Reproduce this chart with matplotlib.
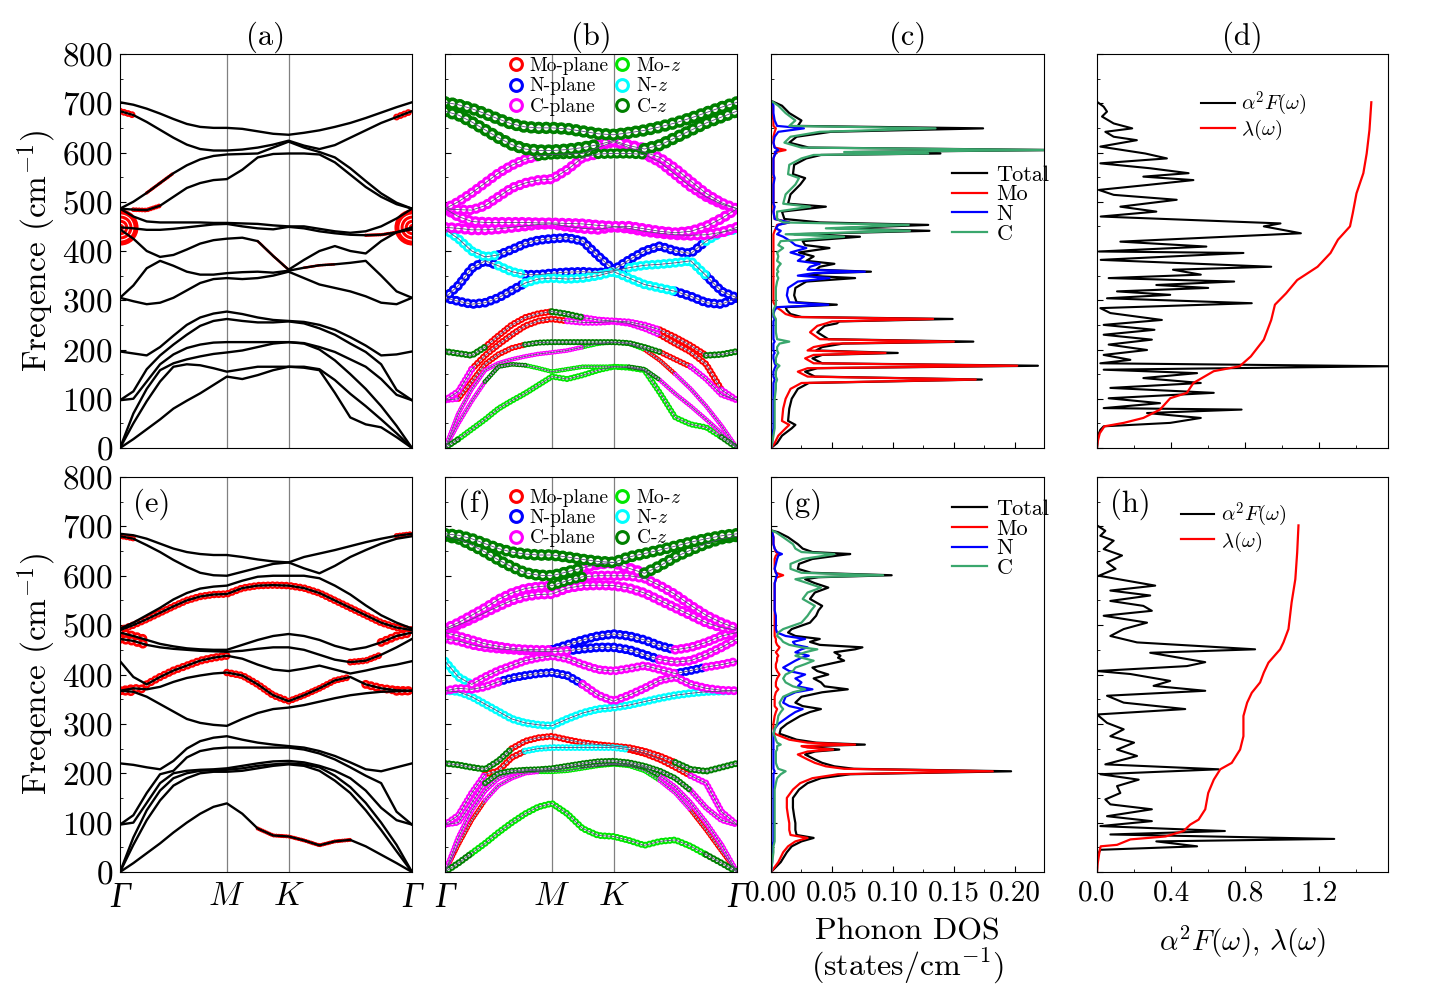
import numpy as np
import matplotlib
matplotlib.use('Agg')
import matplotlib.pyplot as plt
from matplotlib.lines import Line2D
from matplotlib.ticker import MultipleLocator, FormatStrFormatter

plt.rcParams['font.family'] = 'serif'
plt.rcParams['font.serif'] = ['cmr10']
plt.rcParams['mathtext.fontset'] = 'cm'
plt.rcParams['axes.formatter.use_mathtext'] = True
plt.rcParams['lines.scale_dashes'] = False

# k-path: Gamma-M (8 steps), M-K (4 steps), K-Gamma (8 steps)
gm, mk, kg = 1 / np.sqrt(3), 1 / 3, 2 / 3
kx = np.concatenate([np.linspace(0, gm, 9), gm + np.linspace(0, mk, 5)[1:],
                     gm + mk + np.linspace(0, kg, 9)[1:]])
k_nodes = [0, gm, gm + mk, gm + mk + kg]
k_labels = ['Γ', r'$M$', r'$K$', 'Γ']

# phonon branches (cm^-1), sorted by energy, upper row
bands_a = [
    [0, 18, 38, 58, 80, 96, 111, 128, 145, 140, 148, 158, 165, 163, 158, 112, 62, 48, 42, 22, 0],
    [0, 50, 95, 135, 165, 170, 168, 162, 155, 160, 165, 165, 165, 165, 160, 138, 110, 85, 58, 30, 0],
    [0, 70, 120, 158, 172, 180, 186, 191, 194, 198, 205, 212, 215, 212, 200, 178, 150, 120, 85, 45, 0],
    [97, 100, 135, 170, 190, 203, 210, 214, 215, 215, 215, 215, 215, 213, 205, 195, 180, 165, 140, 108, 97],
    [97, 115, 160, 188, 210, 230, 248, 258, 262, 258, 255, 255, 257, 253, 243, 230, 212, 195, 170, 118, 97],
    [196, 192, 188, 205, 228, 250, 265, 273, 277, 272, 265, 260, 258, 256, 250, 240, 225, 208, 188, 190, 196],
    [305, 298, 292, 295, 305, 320, 335, 343, 345, 343, 345, 350, 358, 345, 332, 325, 318, 308, 295, 292, 305],
    [305, 330, 365, 380, 370, 358, 352, 352, 355, 357, 358, 356, 360, 366, 371, 373, 376, 380, 350, 318, 305],
    [444, 425, 400, 388, 392, 403, 415, 422, 425, 427, 420, 390, 362, 382, 400, 410, 400, 395, 420, 438, 444],
    [448, 446, 443, 443, 445, 448, 451, 454, 455, 450, 446, 444, 449, 446, 440, 436, 433, 432, 433, 438, 448],
    [486, 470, 460, 458, 458, 458, 458, 457, 457, 456, 455, 452, 450, 450, 445, 440, 437, 440, 450, 466, 486],
    [486, 484, 483, 492, 510, 528, 538, 544, 546, 565, 590, 597, 598, 598, 596, 580, 555, 530, 510, 495, 486],
    [486, 500, 518, 538, 558, 574, 586, 593, 596, 597, 598, 610, 622, 610, 601, 590, 568, 542, 517, 498, 486],
    [684, 676, 662, 646, 630, 616, 607, 604, 604, 606, 610, 616, 624, 614, 607, 615, 630, 645, 660, 672, 684],
    [702, 697, 689, 679, 668, 658, 652, 650, 650, 648, 643, 638, 636, 640, 645, 652, 660, 670, 681, 692, 702],
]

# lower row
bands_e = [
    [0, 18, 38, 58, 80, 100, 118, 132, 139, 118, 88, 74, 72, 64, 54, 62, 65, 52, 35, 18, 0],
    [0, 55, 105, 145, 175, 190, 200, 203, 203, 205, 210, 215, 218, 215, 205, 185, 160, 125, 85, 42, 0],
    [0, 70, 125, 165, 190, 200, 205, 206, 207, 210, 215, 218, 220, 218, 212, 195, 172, 140, 100, 55, 0],
    [96, 100, 140, 180, 200, 205, 207, 208, 210, 215, 220, 224, 225, 222, 215, 205, 190, 165, 130, 105, 96],
    [96, 115, 160, 198, 205, 232, 245, 250, 252, 252, 252, 252, 252, 248, 240, 228, 212, 195, 180, 122, 96],
    [220, 217, 212, 208, 225, 250, 265, 272, 275, 268, 262, 258, 255, 252, 245, 235, 222, 208, 204, 212, 220],
    [367, 365, 355, 340, 325, 310, 302, 298, 296, 310, 322, 330, 333, 338, 345, 352, 358, 362, 365, 366, 367],
    [367, 372, 370, 375, 385, 393, 398, 402, 404, 398, 380, 358, 346, 358, 372, 388, 395, 380, 372, 368, 367],
    [427, 395, 380, 395, 408, 418, 428, 434, 438, 432, 420, 410, 407, 412, 418, 410, 402, 408, 415, 420, 427],
    [472, 468, 460, 455, 452, 450, 448, 447, 446, 448, 452, 455, 455, 450, 440, 430, 425, 428, 440, 455, 472],
    [485, 478, 470, 462, 457, 453, 451, 450, 450, 460, 470, 478, 482, 478, 470, 458, 450, 455, 465, 478, 485],
    [490, 500, 512, 525, 538, 550, 558, 562, 563, 575, 580, 581, 580, 575, 565, 550, 535, 520, 505, 495, 490],
    [493, 505, 520, 535, 552, 565, 574, 578, 580, 590, 598, 600, 600, 600, 595, 580, 562, 540, 520, 505, 493],
    [680, 675, 662, 648, 632, 618, 606, 601, 600, 608, 616, 624, 627, 615, 605, 620, 638, 652, 665, 675, 680],
    [685, 682, 675, 665, 655, 648, 644, 642, 642, 638, 633, 629, 627, 638, 645, 652, 660, 668, 675, 681, 685],
]

# dominant projection along each branch (r Mo-plane, g Mo-z, b N-plane, c N-z, m C-plane, d C-z)
proj_b = [
    "dgggggggg" "gggg" "ggggggdd",
    "mmmdddggg" "gggg" "ddmmmmmm",
    "mmmmmmmmm" "mggg" "grrmmmmm",
    "mrrrrrddd" "dddd" "ddrrmmmm",
    "mmrrrrrrr" "mmmm" "mmrrrrmm",
    "dddrrrrrd" "dmmm" "mmrrrddd",
    "bbbbbbccc" "cccc" "cccbbbbb",
    "bbbbccbbb" "bbbb" "cccccbbb",
    "ccccbbbbb" "bbbb" "bbbbbccc",
    "m" * 21,
    "m" * 21,
    "mmmmmmmmm" "mmdd" "dmmmmmmm",
    "mmmmmmmdd" "ddmm" "mmmmmmmm",
    "ddddddddd" "ddmm" "mddddddd",
    "d" * 21,
]
proj_f = [
    "ddggggggg" "gggg" "gggggddd",
    "rrrmmmmgg" "gggg" "ggmmrrrr",
    "mmmmmmmgg" "gddd" "ddmmmmmm",
    "mmmdddddd" "dddd" "ddddmmmm",
    "mmmrrrccc" "cccc" "rrrrmmmm",
    "dddddrrrr" "rrrr" "rrrddddd",
    "c" * 21,
    "mmmmbbbbb" "bmmm" "mmmmmmmm",
    "ccmmmmmmm" "mmmm" "mmmbbmmc",
    "mmmmmmmmm" "bbbb" "bbmmmmmm",
    "mmmmmmmmb" "bbbb" "bbbmmmmm",
    "m" * 21,
    "mmmmmmmmd" "dmmm" "mmmmmmmm",
    "ddddddddd" "dmmm" "mddddddd",
    "d" * 21,
]
weight_b = [4.5, 3.5, 3.5, 4.5, 5, 5, 7, 7, 7, 8, 8, 7.5, 7.5, 9, 9]
weight_f = [5, 3.5, 4, 4.5, 5, 5, 6, 6.5, 6.5, 7, 7, 7.5, 7.5, 8.5, 8.5]

# Mo weight shown in red on (a)/(e): (branch, first k index, last k index, weight)
mo_a = [(13, 0, 1, 5.0), (13, 19, 20, 5.0), (11, 1, 3, 3.5), (12, 2, 4, 2.5),
        (8, 10, 12, 2.0), (7, 13, 15, 2.0), (9, 17, 19, 2.5)]
mo_e = [(11, 0, 20, 5.5), (10, 0, 2, 7.0), (9, 0, 2, 7.0), (7, 0, 2, 6.5), (6, 0, 1, 6.5),
        (8, 2, 8, 6.0), (7, 8, 12, 5.5), (0, 10, 16, 3.0), (7, 12, 16, 5.0),
        (9, 16, 18, 5.0), (10, 18, 20, 6.5), (7, 17, 20, 6.5), (6, 19, 20, 6.5),
        (13, 0, 1, 4.0), (14, 19, 20, 4.0)]

# phonon DOS (c)
freq_c = [0, 10, 25, 40, 47, 55, 80, 100, 120, 132, 139, 145, 155, 162, 167, 172, 182, 189, 193, 198,
          205, 212, 216, 221, 235, 248, 253, 257, 262, 266, 272, 280, 286, 291, 296, 310, 325, 338, 345, 350,
          355, 358, 362, 368, 374, 380, 389, 397, 406, 412, 420, 429, 434, 441, 446, 453, 458, 465, 480, 490,
          496, 515, 535, 548, 556, 575, 588, 595, 598, 601, 605, 610, 620, 632, 642, 649, 654, 665, 680, 695, 705]
total_c = [0, .005, .009, .017, .020, .014, .015, .017, .022, .031,
           .173, .036, .028, .038, .219, .042, .034, .042, .104, .037,
           .042, .059, .166, .047, .038, .044, .054, .056, .149, .025,
           .016, .013, .012, .054, .021, .019, .020, .029, .069, .029,
           .042, .082, .037, .040, .052, .029, .035, .023, .048, .028,
           .026, .073, .019, .130, .053, .129, .040, .011, .009, .045,
           .014, .016, .024, .028, .018, .019, .029, .041, .139, .067,
           .235, .031, .015, .021, .049, .174, .022, .025, .015, .009, 0]
mo_c = [0, .003, .006, .012, .015, .009, .010, .012, .016, .025,
        .168, .030, .022, .030, .202, .035, .028, .035, .094, .030,
        .035, .050, .150, .040, .032, .038, .045, .050, .133, .020,
        .012, .008, .004, .003, .002, .002, .002, .002, .002, .002,
        .002, .002, .002, .002, .002, .002, .002, .002, .002, .002,
        .002, .002, .002, .003, .004, .005, .015, .003, .002, .002,
        .002, .002, .002, .002, .002, .002, .002, .003, .003, .004,
        .012, .003, .002, .002, .003, .004, .002, .002, .001, .001, 0]
n_c = [0, .001, .001, .002, .002, .002, .002, .002, .002, .002,
       .003, .002, .002, .003, .004, .003, .002, .002, .003, .002,
       .002, .002, .003, .002, .002, .002, .002, .002, .003, .002,
       .002, .003, .005, .047, .015, .013, .014, .022, .048, .022,
       .035, .077, .030, .032, .040, .022, .027, .016, .029, .020,
       .016, .010, .005, .008, .004, .006, .015, .003, .002, .003,
       .002, .002, .002, .003, .002, .002, .002, .003, .004, .003,
       .006, .003, .002, .003, .006, .027, .005, .003, .002, .002, 0]
c_c = [0, .001, .002, .003, .003, .003, .003, .003, .004, .004,
       .005, .004, .004, .005, .007, .004, .004, .005, .006, .005,
       .005, .007, .015, .005, .004, .004, .004, .004, .004, .003,
       .002, .002, .003, .004, .004, .004, .004, .005, .006, .005,
       .005, .006, .005, .006, .008, .005, .006, .005, .010, .006,
       .008, .060, .012, .114, .045, .113, .010, .005, .005, .032,
       .010, .012, .020, .023, .014, .015, .025, .035, .129, .060,
       .225, .025, .011, .016, .040, .135, .015, .020, .012, .006, 0]

# phonon DOS (g)
freq_g = [0, 20, 40, 52, 62, 69, 75, 85, 99, 113, 130, 150, 167, 180, 190, 198, 204, 209, 214, 221,
          228, 238, 244, 248, 252, 255, 258, 262, 268, 275, 280, 290, 300, 316, 324, 330, 336, 343, 355, 364,
          370, 376, 384, 392, 400, 407, 414, 421, 428, 434, 438, 445, 451, 455, 460, 466, 472, 478, 485, 492,
          505, 519, 530, 539, 553, 566, 576, 585, 593, 597, 601, 606, 614, 624, 634, 641, 644, 648, 655, 664,
          678, 688, 692]
total_g = [0, .008, .013, .017, .025, .035, .021, .020, .020, .019,
           .018, .018, .023, .030, .041, .065, .197, .068, .052, .042,
           .036, .028, .036, .056, .037, .032, .077, .037, .021, .013,
           .007, .008, .013, .024, .032, .041, .026, .020, .025, .042,
           .063, .044, .041, .035, .047, .038, .034, .047, .060, .055,
           .057, .052, .069, .075, .040, .032, .040, .020, .014, .017,
           .032, .037, .039, .042, .032, .036, .047, .036, .028, .039,
           .099, .033, .022, .023, .034, .055, .065, .034, .026, .022,
           .014, .006, 0]
mo_g = [0, .006, .010, .014, .020, .030, .016, .015, .015, .014,
        .013, .013, .018, .024, .034, .055, .182, .060, .045, .036,
        .030, .022, .030, .051, .030, .025, .069, .030, .015, .008,
        .003, .002, .002, .003, .004, .005, .003, .003, .003, .004,
        .006, .004, .004, .005, .007, .005, .004, .004, .005, .005,
        .006, .004, .006, .007, .005, .004, .004, .003, .003, .003,
        .003, .003, .003, .003, .003, .003, .003, .003, .004, .005,
        .010, .004, .003, .003, .003, .004, .006, .004, .003, .002,
        .002, .001, 0]
n_g = [0, .001, .001, .001, .002, .002, .002, .002, .002, .002,
       .002, .002, .002, .002, .002, .002, .003, .002, .002, .002,
       .002, .002, .002, .002, .002, .002, .002, .002, .002, .002,
       .002, .003, .006, .015, .020, .026, .015, .010, .012, .020,
       .034, .022, .025, .020, .028, .015, .010, .015, .020, .025,
       .031, .020, .025, .030, .020, .018, .028, .012, .005, .004,
       .004, .004, .003, .003, .003, .003, .003, .003, .004, .004,
       .005, .004, .003, .004, .005, .006, .009, .005, .003, .002,
       .002, .001, 0]
c_g = [0, .001, .002, .002, .003, .003, .003, .003, .003, .003,
       .003, .003, .003, .004, .005, .008, .012, .006, .005, .004,
       .004, .004, .004, .005, .005, .005, .008, .005, .004, .003,
       .002, .003, .005, .006, .008, .010, .008, .007, .010, .018,
       .028, .018, .012, .010, .012, .018, .020, .028, .035, .025,
       .020, .028, .038, .025, .015, .010, .008, .005, .006, .010,
       .025, .030, .033, .036, .026, .030, .041, .030, .020, .030,
       .092, .025, .016, .016, .026, .045, .052, .025, .020, .018,
       .010, .004, 0]

# Eliashberg function and lambda (d)
freq_a2f_d = [0, 24, 37, 44, 51, 61, 71, 78, 81, 91, 101, 112, 122, 132, 142, 152, 159, 166, 172, 179,
              189, 199, 210, 220, 230, 240, 250, 260, 274, 284, 294, 304, 311, 318, 325, 331, 338, 345, 352, 362,
              368, 382, 396, 399, 409, 419, 436, 450, 456, 470, 480, 490, 504, 514, 524, 534, 544, 551, 558, 568,
              578, 588, 598, 612, 625, 632, 642, 649, 659, 673, 683, 693, 703]
a2f_d = [0, .004, .018, .036, .395, .56, .27, .78, .036, .34, .063, .63, .072, .56, .25, .54, .036, 1.58, .018, .18,
         .036, .27, .063, .296, .036, .31, .036, .35, .072, .018, .835, .054, .395, .108, .6, .32, .74, .063, .56, .41,
         .94, .02, .79, .01, .59, .126, 1.1, .9, .99, .02, .32, .126, .43, .09, .01, .27, .52, .25, .494, .287,
         .018, .377, .26, .018, .215, .09, .045, .19, .09, .027, .054, .036, 0]
freq_lam_d = [0, 15, 30, 44, 51, 61, 78, 101, 112, 132, 156, 166, 186, 220, 260, 291, 314, 341, 368, 396,
              423, 450, 477, 517, 558, 598, 646, 702]
lam_d = [0, .005, .015, .04, .144, .25, .34, .395, .485, .52, .63, .77, .83, .9, .94, .96, 1.02, 1.08, 1.19, 1.26,
         1.30, 1.365, 1.38, 1.40, 1.437, 1.455, 1.47, 1.48]

# Eliashberg function and lambda (h)
freq_a2f_h = [0, 32, 45, 52, 62, 67, 76, 83, 93, 103, 113, 127, 137, 147, 160, 174, 187, 198, 208, 218,
              235, 248, 262, 275, 289, 302, 319, 330, 343, 357, 367, 377, 387, 401, 407, 417, 425, 444, 451, 465,
              478, 492, 505, 519, 529, 539, 549, 560, 570, 580, 600, 614, 627, 641, 654, 671, 681, 691, 702]
a2f_h = [0, 0, .018, .54, .32, 1.28, .072, .69, .018, .296, .054, .296, .072, .045, .126, .108, .225, .018, .656, .045,
         .216, .108, .2, .072, .144, .054, 0, .476, .144, .054, .584, .305, .395, .18, 0, .485, .584, .287, .853, .216,
         .072, .144, .27, .036, .296, .25, .072, .287, .072, .314, .01, .1, .054, .135, .036, .09, .018, .045, 0]
freq_lam_h = [0, 18, 45, 52, 55, 66, 72, 83, 96, 106, 127, 160, 187, 208, 221, 248, 275, 316, 343, 363,
              384, 404, 424, 451, 465, 492, 546, 593, 647, 702]
lam_h = [0, .004, .015, .02, .108, .18, .37, .467, .503, .548, .584, .6, .63, .665, .727, .772, .79, .79, .81, .835,
         .88, .9, .925, .988, 1.006, 1.033, 1.05, 1.07, 1.08, 1.087]

proj_colors = {'r': '#ff0000', 'g': '#00e600', 'b': '#0000ff', 'c': '#00ffff', 'm': '#ff00ff', 'd': '#008000'}
proj_labels = {'r': 'Mo-plane', 'b': 'N-plane', 'm': 'C-plane', 'g': 'Mo-$z$', 'c': 'N-$z$', 'd': 'C-$z$'}
c_green = '#3aa76d'


def ring_band(ax, x, y, color, w):
    # chain of overlapping circles, drawn as round dots along the path
    gap = 0.6 * w
    ax.plot(x, y, color=color, lw=w, ls=(0, (0.01, gap)), dash_capstyle='round')
    ax.plot(x, y, color='white', lw=0.42 * w, ls=(0, (0.01, gap)), dash_capstyle='round')


def proj_bands(ax, bands, codes, weights):
    for code in 'rgbcmd':
        for y, cs, w in zip(bands, codes, weights):
            i = 0
            while i < len(y) - 1:
                if cs[i] != code:
                    i += 1
                    continue
                j = i
                while j < len(y) - 1 and cs[j] == code:
                    j += 1
                ring_band(ax, kx[i:j + 1], y[i:j + 1], proj_colors[code], w)
                i = j
    for y in bands:
        ax.plot(kx, y, color='#5a4a7a', lw=0.6)


fig = plt.figure(figsize=(14.36, 9.84), dpi=100)
lefts = [120, 445, 771, 1097]
wids = [292, 292, 273, 291]
rows = [(54, 448), (477, 872)]
axes = [[fig.add_axes([lefts[c] / 1436, 1 - rows[r][1] / 984, wids[c] / 1436,
                       (rows[r][1] - rows[r][0]) / 984]) for c in range(4)] for r in range(2)]

for r in range(2):
    for c in range(4):
        ax = axes[r][c]
        ax.set_ylim(0, 800)
        ax.yaxis.set_major_locator(MultipleLocator(100))
        ax.yaxis.set_minor_locator(MultipleLocator(50))
        ax.tick_params(axis='y', which='both', direction='in', left=True, right=False)
        ax.tick_params(axis='y', which='major', length=4)
        ax.tick_params(axis='y', which='minor', length=2.5)
        if c == 0:
            ax.tick_params(axis='y', labelsize=24, pad=5)
            ax.set_ylabel(r'Freqence (cm$^{-1}$)', fontsize=24, labelpad=3)
        else:
            ax.tick_params(axis='y', labelleft=False)
        for s in ax.spines.values():
            s.set_linewidth(0.8)

# band structure panels
for r, bands, mo in [(0, bands_a, mo_a), (1, bands_e, mo_e)]:
    ax = axes[r][0]
    for bi, i0, i1, w in mo:
        ring_band(ax, kx[i0:i1 + 1], bands[bi][i0:i1 + 1], 'red', w)
    if r == 0:
        gx = [kx[0], kx[-1]]
        gy = [bands[9][0], bands[9][-1]]
        ax.plot(gx, gy, 'o', color='red', ms=26, mew=0, clip_on=True)
        for ms in [18, 12, 6]:
            ax.plot(gx, gy, 'o', mfc='none', mec='white', ms=ms, mew=0.8)
    for y in bands:
        ax.plot(kx, y, color='black', lw=1.7)

for r, bands, codes, weights in [(0, bands_a, proj_b, weight_b), (1, bands_e, proj_f, weight_f)]:
    proj_bands(axes[r][1], bands, codes, weights)
    handles = [Line2D([], [], ls='none', marker='o', mfc='none', mec=proj_colors[k], mew=2.2, ms=8.5)
               for k in 'rbmgcd']
    axes[r][1].legend(handles, [proj_labels[k] for k in 'rbmgcd'], ncol=2, loc='upper center',
                      bbox_to_anchor=(0.513, 1.017) if r == 0 else (0.513, 0.995), frameon=False,
                      fontsize=14, handlelength=0.8, handletextpad=0.3, columnspacing=0.3,
                      labelspacing=0.12, borderaxespad=0.1)

for r in range(2):
    for c in range(2):
        ax = axes[r][c]
        ax.set_xlim(0, kx[-1])
        for kn in k_nodes[1:3]:
            ax.axvline(kn, color='gray', lw=0.9, zorder=0)
        ax.set_xticks(k_nodes)
        ax.tick_params(axis='x', length=0, pad=7)
        if r == 1:
            ax.set_xticklabels(k_labels, fontsize=24)
            for lbl in ax.get_xticklabels():
                if lbl.get_text() == 'Γ':
                    lbl.set_fontfamily('Liberation Serif')
                    lbl.set_fontstyle('italic')
                    lbl.set_fontsize(25)
        else:
            ax.set_xticklabels([])

# phonon DOS
for r, fr, tot, mo, n, cc in [(0, freq_c, total_c, mo_c, n_c, c_c), (1, freq_g, total_g, mo_g, n_g, c_g)]:
    ax = axes[r][2]
    ax.plot(tot, fr, color='black', lw=1.6, label='Total')
    ax.plot(mo, fr, color='red', lw=1.6, label='Mo')
    ax.plot(n, fr, color='blue', lw=1.6, label='N')
    ax.plot(cc, fr, color=c_green, lw=1.6, label='C')
    ax.set_xlim(0, 0.224)
    ax.xaxis.set_major_locator(MultipleLocator(0.05))
    ax.xaxis.set_minor_locator(MultipleLocator(0.025))
    ax.xaxis.set_major_formatter(FormatStrFormatter('%.2f'))
    ax.legend(loc='upper left', bbox_to_anchor=(0.63, 0.74) if r == 0 else (0.63, 0.965),
              frameon=False, fontsize=16, handlelength=1.6, handletextpad=0.4,
              labelspacing=0.0, borderaxespad=0)

# Eliashberg
for r, fa, a2f, fl, lam in [(0, freq_a2f_d, a2f_d, freq_lam_d, lam_d), (1, freq_a2f_h, a2f_h, freq_lam_h, lam_h)]:
    ax = axes[r][3]
    ax.plot(a2f, fa, color='black', lw=1.5, label=r'$\alpha^2F(\omega)$')
    ax.plot(lam, fl, color='red', lw=1.6, label=r'$\lambda(\omega)$')
    ax.set_xlim(0, 1.57)
    ax.xaxis.set_major_locator(MultipleLocator(0.4))
    ax.xaxis.set_minor_locator(MultipleLocator(0.2))
    ax.xaxis.set_major_formatter(FormatStrFormatter('%.1f'))
    ax.legend(loc='upper left', bbox_to_anchor=(0.33, 0.93) if r == 0 else (0.26, 0.96),
              frameon=False, fontsize=15, handlelength=1.6, handletextpad=0.3,
              labelspacing=0.0, borderaxespad=0)

for r in range(2):
    for c in [2, 3]:
        ax = axes[r][c]
        ax.tick_params(axis='x', which='both', direction='in', top=False)
        ax.tick_params(axis='x', which='major', length=4, labelsize=21, pad=6)
        ax.tick_params(axis='x', which='minor', length=2.5)
        if r == 0:
            ax.tick_params(axis='x', labelbottom=False)

axes[1][2].set_xlabel('Phonon DOS\n(states/cm$^{-1}$)', fontsize=23, linespacing=1.05, labelpad=8)
axes[1][3].set_xlabel(r'$\alpha^2F(\omega)$, $\lambda(\omega)$', fontsize=21, labelpad=12)

for c, t in enumerate(['(a)', '(b)', '(c)', '(d)']):
    axes[0][c].set_title(t, fontsize=22, pad=7)
for c, t in enumerate(['(e)', '(f)', '(g)', '(h)']):
    axes[1][c].text(0.045, 0.97, t, transform=axes[1][c].transAxes, fontsize=22, va='top', ha='left')

fig.savefig('out.png', dpi=100)
